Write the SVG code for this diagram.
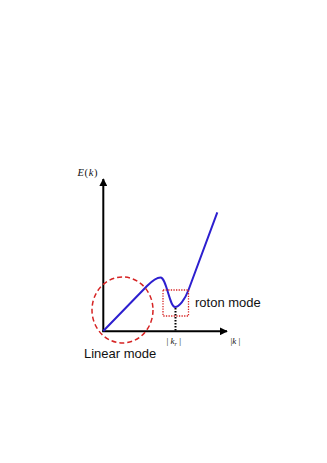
<svg xmlns="http://www.w3.org/2000/svg" width="327" height="463" viewBox="0 0 327 463">
<style>
.axis{stroke:#000;stroke-width:2;fill:none}
.curve{stroke:#2d1fcf;stroke-width:2;fill:none;stroke-linejoin:round}
.red{stroke:#d62424;fill:none}
.lbl{font-family:"Liberation Sans",Arial,sans-serif;font-size:13px;fill:#111}
.math{font-family:"Liberation Serif","Times New Roman",serif;fill:#111}
</style>
<defs>
<marker id="arr" viewBox="0 0 10 10" refX="9" refY="5" markerWidth="4" markerHeight="4" orient="auto" markerUnits="strokeWidth">
<path d="M0,0 L10,5 L0,10 Z" fill="#000"/>
</marker>
</defs>
<rect width="327" height="463" fill="#fff"/>
<g id="connectors">
<line class="axis" x1="103.3" y1="332" x2="103.3" y2="179" marker-end="url(#arr)"/>
<line class="axis" x1="102.3" y1="331.3" x2="227" y2="331.3" marker-end="url(#arr)"/>
<line x1="175.5" y1="308" x2="175.5" y2="330.5" stroke="#000" stroke-width="2" stroke-dasharray="1.5,1.5"/>
</g>
<g id="curve">
<path class="curve" d="M103.3,331 L147,286 C152,281 156,277.5 160.5,277.5 C166.5,277.5 169.5,307 175,307 C179,307 185,299.5 188.5,290 L217.3,212.3"/>
</g>
<g id="linear-mode">
<ellipse class="red" cx="122.5" cy="310" rx="30.5" ry="33" stroke-width="1.5" stroke-dasharray="5,3"/>
<text class="lbl" x="84" y="358">Linear mode</text>
</g>
<g id="roton-mode">
<rect class="red" x="163" y="290" width="25.5" height="26" stroke-width="1.3" stroke-dasharray="1.3,1.3"/>
<text class="lbl" x="195" y="307">roton mode</text>
</g>
<g id="labels">
<text class="math" x="77.5" y="175.5" font-size="10.5" letter-spacing="0.6"><tspan font-style="italic">E</tspan>(<tspan font-style="italic">k</tspan>)</text>
<text class="math" x="166.5" y="344" font-size="9">| <tspan font-style="italic">k</tspan><tspan font-size="6" font-style="italic" dy="2">r</tspan><tspan dy="-2"> |</tspan></text>
<text class="math" x="230.5" y="344" font-size="9">|<tspan font-style="italic">k</tspan> |</text>
</g>
</svg>
